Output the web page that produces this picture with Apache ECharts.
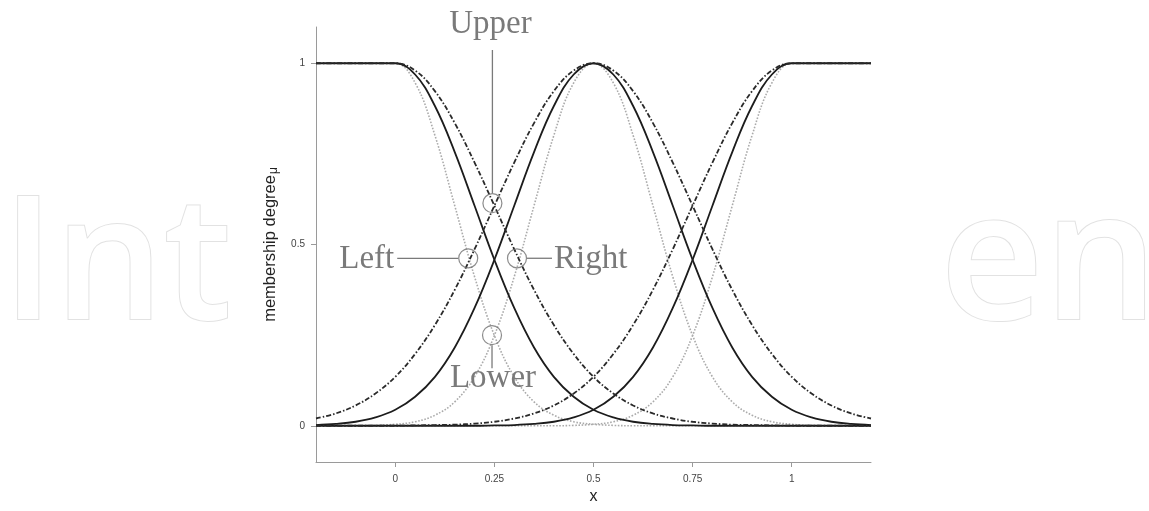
<!DOCTYPE html>
<html>
<head>
<meta charset="utf-8">
<script src="https://cdn.jsdelivr.net/npm/echarts@6/dist/echarts.min.js"></script>
<style>
  html, body { margin: 0; padding: 0; background: #fff; }
  #main { width: 1149px; height: 511px; }
</style>
</head>
<body>
<div id="main"></div>
<script>
// x 取样点
var xs = [-0.2, -0.15, -0.1, -0.05, 0, 0.05, 0.1, 0.15, 0.2, 0.25, 0.3, 0.35, 0.4, 0.45, 0.5,
  0.55, 0.6, 0.65, 0.7, 0.75, 0.8, 0.85, 0.9, 0.95, 1, 1.05, 1.1, 1.15, 1.2]

// 窄 (点线)
var narrowLeft = [1, 1, 1, 1, 1, 0.946, 0.801, 0.607, 0.411, 0.249, 0.135, 0.066, 0.029, 0.011, 0.004,
  0.001, 0, 0, 0, 0, 0, 0, 0, 0, 0, 0, 0, 0, 0]
var narrowMid = [0, 0, 0, 0.001, 0.004, 0.011, 0.029, 0.066, 0.135, 0.249, 0.411, 0.607, 0.801, 0.946, 1,
  0.946, 0.801, 0.607, 0.411, 0.249, 0.135, 0.066, 0.029, 0.011, 0.004, 0.001, 0, 0, 0]
var narrowRight = [0, 0, 0, 0, 0, 0, 0, 0, 0, 0, 0, 0, 0, 0.001, 0.004,
  0.011, 0.029, 0.066, 0.135, 0.249, 0.411, 0.607, 0.801, 0.946, 1, 1, 1, 1, 1]

// 中 (实线)
var solidLeft = [1, 1, 1, 1, 1, 0.969, 0.882, 0.755, 0.607, 0.458, 0.325, 0.216, 0.135, 0.080, 0.044,
  0.023, 0.011, 0.005, 0.002, 0.001, 0, 0, 0, 0, 0, 0, 0, 0, 0]
var solidMid = [0.002, 0.005, 0.011, 0.023, 0.044, 0.080, 0.135, 0.216, 0.325, 0.458, 0.607, 0.755, 0.882, 0.969, 1,
  0.969, 0.882, 0.755, 0.607, 0.458, 0.325, 0.216, 0.135, 0.080, 0.044, 0.023, 0.011, 0.005, 0.002]
var solidRight = [0, 0, 0, 0, 0, 0, 0, 0, 0, 0.001, 0.002, 0.005, 0.011, 0.023, 0.044,
  0.080, 0.135, 0.216, 0.325, 0.458, 0.607, 0.755, 0.882, 0.969, 1, 1, 1, 1, 1]

// 宽 (点划线)
var wideLeft = [1, 1, 1, 1, 1, 0.980, 0.923, 0.835, 0.726, 0.607, 0.487, 0.375, 0.278, 0.198, 0.135,
  0.089, 0.056, 0.034, 0.020, 0.011, 0.006, 0.003, 0.002, 0.001, 0, 0, 0, 0, 0]
var wideMid = [0.020, 0.034, 0.056, 0.089, 0.135, 0.198, 0.278, 0.375, 0.487, 0.607, 0.726, 0.835, 0.923, 0.980, 1,
  0.980, 0.923, 0.835, 0.726, 0.607, 0.487, 0.375, 0.278, 0.198, 0.135, 0.089, 0.056, 0.034, 0.020]
var wideRight = [0, 0, 0, 0, 0, 0.001, 0.002, 0.003, 0.006, 0.011, 0.020, 0.034, 0.056, 0.089, 0.135,
  0.198, 0.278, 0.375, 0.487, 0.607, 0.726, 0.835, 0.923, 0.980, 1, 1, 1, 1, 1]

var xTicks = [0, 0.25, 0.5, 0.75, 1]
var yTicks = [0, 0.5, 1]

// 标注的交点
var annoNames = ['Left', 'Upper', 'Right', 'Lower']
var annoX = [0.184, 0.245, 0.307, 0.244]
var annoY = [0.462, 0.614, 0.462, 0.25]

function toPairs(ys) {
  return xs.map(function (x, i) { return [x, ys[i]] })
}

var dottedStyle = { color: '#ababab', width: 1.6, type: 'dotted' }
var solidStyle = { color: '#1c1c1c', width: 1.8, type: 'solid' }
var dashDotStyle = { color: '#2a2a2a', width: 1.8, type: [5, 2, 1.5, 2] }

function lineSeries(ys, style) {
  return {
    type: 'line',
    data: toPairs(ys),
    showSymbol: false,
    smooth: 0.4,
    lineStyle: style,
    silent: true
  }
}

var chart = echarts.init(document.getElementById('main'))

var axisColor = '#9a9a9a'
var option = {
  animation: false,
  backgroundColor: '#fff',
  grid: { left: 316, top: 27, right: 278, bottom: 49 },
  xAxis: {
    type: 'value',
    min: -0.2,
    max: 1.2,
    name: 'x',
    nameLocation: 'middle',
    nameGap: 25,
    nameTextStyle: { fontSize: 16, color: '#222', fontFamily: 'Liberation Sans' },
    axisLine: { onZero: false, lineStyle: { color: axisColor, width: 1 } },
    axisTick: { show: true, length: 5, customValues: xTicks, lineStyle: { color: axisColor } },
    axisLabel: { customValues: xTicks, fontSize: 10, color: '#444', margin: 12, fontFamily: 'Liberation Sans' },
    splitLine: { show: false }
  },
  yAxis: {
    type: 'value',
    min: -0.1,
    max: 1.1,
    name: '{a|membership degree}{b|μ}',
    nameLocation: 'middle',
    nameGap: 36,
    nameTextStyle: {
      color: '#222',
      rich: {
        a: { fontSize: 16.5, color: '#222', fontFamily: 'Liberation Sans' },
        b: { fontSize: 12, color: '#222', fontFamily: 'Liberation Sans', padding: [8, 0, 0, 1] }
      }
    },
    axisLine: { show: true, onZero: false, lineStyle: { color: axisColor, width: 1 } },
    axisTick: { show: true, length: 5, customValues: yTicks, lineStyle: { color: axisColor } },
    axisLabel: { customValues: yTicks, fontSize: 10, color: '#444', margin: 11, fontFamily: 'Liberation Sans' },
    splitLine: { show: false }
  },
  series: [
    lineSeries(narrowLeft, dottedStyle),
    lineSeries(narrowMid, dottedStyle),
    lineSeries(narrowRight, dottedStyle),
    lineSeries(solidLeft, solidStyle),
    lineSeries(solidMid, solidStyle),
    lineSeries(solidRight, solidStyle),
    lineSeries(wideLeft, dashDotStyle),
    lineSeries(wideMid, dashDotStyle),
    lineSeries(wideRight, dashDotStyle),
    {
      type: 'scatter',
      data: annoX.map(function (x, i) { return [x, annoY[i]] }),
      symbol: 'circle',
      symbolSize: 19,
      itemStyle: { color: 'rgba(0,0,0,0)', borderColor: '#6e6e6e', borderWidth: 1.2 },
      silent: true,
      z: 5
    }
  ]
}
chart.setOption(option)

// 标注文字和引线, 以交点像素位置为准
var pts = annoX.map(function (x, i) {
  return chart.convertToPixel({ gridIndex: 0 }, [x, annoY[i]])
})
var gray = '#7a7a7a'
var serif = { fontFamily: 'Liberation Serif', fontSize: 33, fill: gray }
function seg(x1, y1, x2, y2) {
  return { type: 'line', z: 10, shape: { x1: x1, y1: y1, x2: x2, y2: y2 }, style: { stroke: gray, lineWidth: 1.3 } }
}
function txt(s, x, y, align) {
  return {
    type: 'text', z: 10, x: x, y: y,
    style: Object.assign({ text: s, align: align, verticalAlign: 'middle' }, serif)
  }
}
var wm = { fontFamily: 'Open Sans', fontWeight: 600, fontSize: 172, fill: '#fff', stroke: '#e2e2e2', lineWidth: 2, verticalAlign: 'middle' }
var pL = pts[0], pU = pts[1], pR = pts[2], pD = pts[3]
var graphics = [
  // 水印, 中间被白色图框挡住
  { type: 'text', z: -10, x: 2, y: 270, style: Object.assign({ text: 'Int', align: 'left' }, wm) },
  { type: 'text', z: -10, x: 1158, y: 268, style: Object.assign({ text: 'en', align: 'right' }, wm, { fontSize: 180 }) },
  { type: 'rect', z: -9, shape: { x: 228, y: 0, width: 706, height: 511 }, style: { fill: '#fff' } },
  seg(pL[0] - 10, pL[1], pL[0] - 71, pL[1]),
  txt('Left', pL[0] - 74, pL[1] + 1, 'right'),
  seg(pR[0] + 10, pR[1], pR[0] + 35, pR[1]),
  txt('Right', pR[0] + 37, pR[1] + 1, 'left'),
  seg(pU[0], pU[1] - 10, pU[0], 50),
  txt('Upper', pU[0] - 2, 24, 'center'),
  seg(pD[0], pD[1] + 10, pD[0], pD[1] + 33),
  txt('Lower', pD[0] + 1, pD[1] + 43, 'center')
]
chart.setOption({ graphic: graphics })
</script>
</body>
</html>
